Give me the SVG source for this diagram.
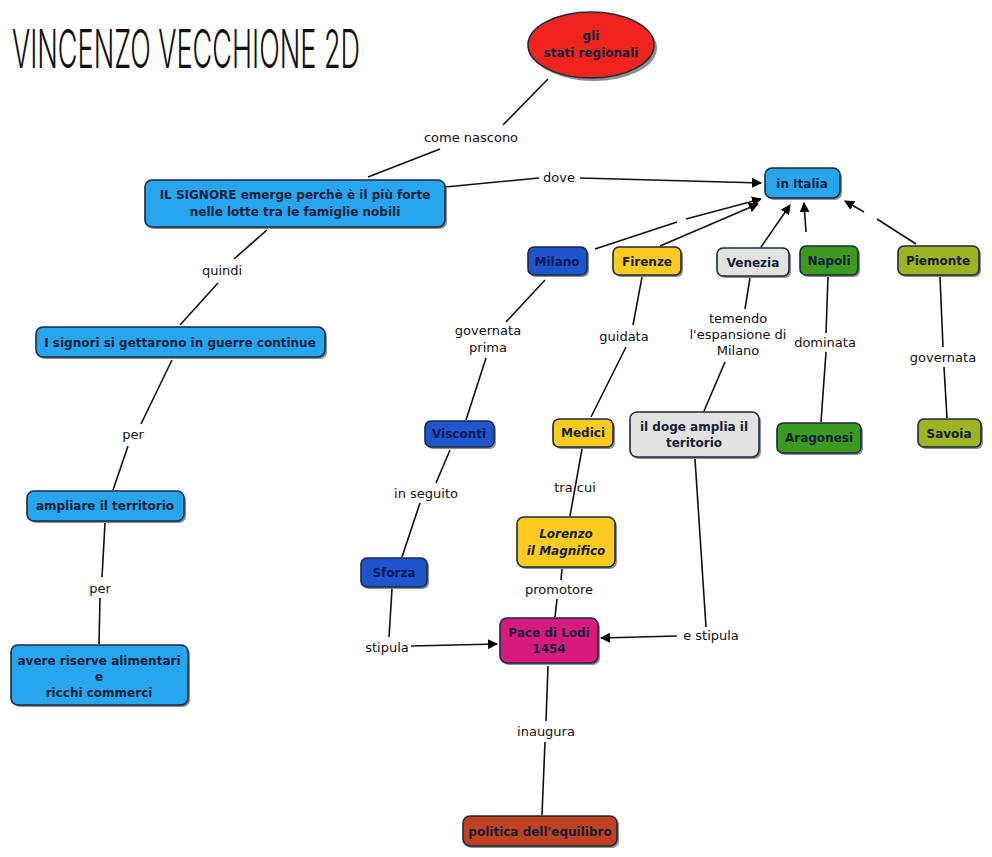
<svg xmlns="http://www.w3.org/2000/svg" width="992" height="857" viewBox="0 0 992 857">
<defs>
<marker id="arr" viewBox="0 0 10 10" refX="9" refY="5" markerWidth="10" markerHeight="10" markerUnits="userSpaceOnUse" orient="auto"><path d="M0,0 L10,5 L0,10 z" fill="#000"/></marker>
<style>
.n{stroke:#1a2a40;stroke-width:1.6}
.sh{fill:#333;opacity:.55}
.t{font-family:"DejaVu Sans",Verdana,sans-serif;font-weight:bold;font-size:12px;fill:#14213a;text-anchor:middle}
.tw{font-family:"DejaVu Sans",Verdana,sans-serif;font-weight:bold;font-size:12px;fill:#0c1a5a;text-anchor:middle}
.l{font-family:"DejaVu Sans",Verdana,sans-serif;font-size:13px;fill:#111;text-anchor:middle}
.c{stroke:#111;stroke-width:1.6;fill:none}
.a{stroke:#111;stroke-width:1.6;fill:none;marker-end:url(#arr)}
.blue{fill:#27a6ee}.dblue{fill:#1f55cc}.yel{fill:#ffcb1e}.gray{fill:#e2e2e0}.grn{fill:#3c9a1e}.olv{fill:#9db322}.mag{fill:#d81a7e}.brn{fill:#c0411f}
</style>
</defs>
<rect width="992" height="857" fill="#fff"/>
<text x="12" y="68" font-family="Inter,'DejaVu Sans',sans-serif" font-size="53" font-weight="300" fill="#111" textLength="348" lengthAdjust="spacingAndGlyphs">VINCENZO VECCHIONE 2D</text>

<g id="connectors">
<line class="c" x1="548" y1="79" x2="503" y2="125"/>
<line class="c" x1="440" y1="149" x2="368" y2="177"/>
<line class="c" x1="445" y1="187" x2="539" y2="178"/>
<line class="a" x1="580" y1="178" x2="761" y2="183"/>
<line class="c" x1="267" y1="230" x2="234" y2="259"/>
<line class="c" x1="218" y1="283" x2="180" y2="325"/>
<line class="c" x1="172" y1="360" x2="141" y2="424"/>
<line class="c" x1="128" y1="446" x2="113" y2="490"/>
<line class="c" x1="105" y1="523" x2="102" y2="577"/>
<line class="c" x1="100" y1="598" x2="99" y2="644"/>
<line class="c" x1="595" y1="249" x2="677" y2="222"/>
<line class="a" x1="686" y1="219" x2="761" y2="199"/>
<line class="a" x1="660" y1="246" x2="758" y2="204"/>
<line class="a" x1="761" y1="247" x2="790" y2="205"/>
<line class="a" x1="806" y1="232" x2="804" y2="203"/>
<line class="c" x1="916" y1="244" x2="877" y2="219"/>
<line class="a" x1="864" y1="212" x2="845" y2="201"/>
<line class="c" x1="545" y1="280" x2="506" y2="322"/>
<line class="c" x1="486" y1="358" x2="466" y2="420"/>
<line class="c" x1="642" y1="277" x2="633" y2="325"/>
<line class="c" x1="626" y1="347" x2="591" y2="417"/>
<line class="c" x1="750" y1="278" x2="745" y2="309"/>
<line class="c" x1="725" y1="362" x2="704" y2="411"/>
<line class="c" x1="828" y1="277" x2="826" y2="333"/>
<line class="c" x1="826" y1="352" x2="821" y2="422"/>
<line class="c" x1="940" y1="277" x2="943" y2="347"/>
<line class="c" x1="944" y1="367" x2="947" y2="418"/>
<line class="c" x1="450" y1="450" x2="436" y2="483"/>
<line class="c" x1="420" y1="503" x2="402" y2="557"/>
<line class="c" x1="582" y1="449" x2="570" y2="516"/>
<line class="c" x1="562" y1="569" x2="561" y2="580"/>
<line class="c" x1="557" y1="599" x2="555" y2="617"/>
<line class="c" x1="392" y1="589" x2="389" y2="637"/>
<line class="a" x1="411" y1="646" x2="497" y2="644"/>
<line class="c" x1="695" y1="459" x2="706" y2="627"/>
<line class="a" x1="677" y1="636" x2="601" y2="638"/>
<line class="c" x1="548" y1="666" x2="546" y2="721"/>
<line class="c" x1="545" y1="742" x2="542" y2="815"/>
</g>

<g id="labels">
<text class="l" x="471" y="142">come nascono</text>
<text class="l" x="559" y="182">dove</text>
<text class="l" x="222" y="275">quindi</text>
<text class="l" x="133" y="439">per</text>
<text class="l" x="100" y="593">per</text>
<text class="l" x="488" y="335">governata</text>
<text class="l" x="488" y="352">prima</text>
<text class="l" x="624" y="341">guidata</text>
<text class="l" x="738" y="323">temendo</text>
<text class="l" x="738" y="339">l'espansione di</text>
<text class="l" x="738" y="355">Milano</text>
<text class="l" x="825" y="347">dominata</text>
<text class="l" x="943" y="362">governata</text>
<text class="l" x="426" y="498">in seguito</text>
<text class="l" x="575" y="492">tra cui</text>
<text class="l" x="559" y="594">promotore</text>
<text class="l" x="387" y="652">stipula</text>
<text class="l" x="711" y="640">e stipula</text>
<text class="l" x="546" y="736">inaugura</text>
</g>

<g id="n-stati"><ellipse class="sh" cx="594" cy="48" rx="63" ry="33"/><ellipse class="n" cx="591" cy="45" rx="63" ry="33" fill="#f0241c"/><text class="t" font-size="10"><tspan x="591" y="40">gli</tspan><tspan x="591" y="57">stati regionali</tspan></text></g>
<g id="n-signore"><rect class="sh" x="147" y="182" width="300" height="47" rx="7"/><rect class="n blue" x="145" y="180" width="300" height="47" rx="7"/><text class="t" x="295" y="199">IL SIGNORE emerge perchè è il più forte</text><text class="t" x="295" y="216">nelle lotte tra le famiglie nobili</text></g>
<g id="n-italia"><rect class="sh" x="767" y="170" width="75" height="30" rx="7"/><rect class="n blue" x="765" y="168" width="75" height="30" rx="7"/><text class="t" x="802" y="188">in Italia</text></g>
<g id="n-guerre"><rect class="sh" x="38" y="329" width="289" height="30" rx="7"/><rect class="n blue" x="36" y="327" width="289" height="30" rx="7"/><text class="t" x="180" y="347">I signori si gettarono in guerre continue</text></g>
<g id="n-ampliare"><rect class="sh" x="29" y="493" width="157" height="30" rx="7"/><rect class="n blue" x="27" y="491" width="157" height="30" rx="7"/><text class="t" x="105" y="510">ampliare il territorio</text></g>
<g id="n-riserve"><rect class="sh" x="13" y="647" width="177" height="60" rx="7"/><rect class="n blue" x="11" y="645" width="177" height="60" rx="7"/><text class="t" x="99" y="665">avere riserve alimentari</text><text class="t" x="99" y="681">e</text><text class="t" x="99" y="697">ricchi commerci</text></g>
<g id="n-milano"><rect class="sh" x="530" y="249" width="59" height="28" rx="6"/><rect class="n dblue" x="528" y="247" width="59" height="28" rx="6"/><text class="tw" x="557" y="266">Milano</text></g>
<g id="n-firenze"><rect class="sh" x="615" y="249" width="68" height="28" rx="6"/><rect class="n yel" x="613" y="247" width="68" height="28" rx="6"/><text class="t" x="647" y="266">Firenze</text></g>
<g id="n-venezia"><rect class="sh" x="719" y="250" width="72" height="28" rx="6"/><rect class="n gray" x="717" y="248" width="72" height="28" rx="6"/><text class="t" x="753" y="267">Venezia</text></g>
<g id="n-napoli"><rect class="sh" x="802" y="248" width="58" height="29" rx="6"/><rect class="n grn" x="800" y="246" width="58" height="29" rx="6"/><text class="t" x="829" y="265">Napoli</text></g>
<g id="n-piemonte"><rect class="sh" x="900" y="248" width="81" height="29" rx="6"/><rect class="n olv" x="898" y="246" width="81" height="29" rx="6"/><text class="t" x="938" y="265">Piemonte</text></g>
<g id="n-visconti"><rect class="sh" x="427" y="423" width="69" height="26" rx="6"/><rect class="n dblue" x="425" y="421" width="69" height="26" rx="6"/><text class="tw" x="459" y="438">Visconti</text></g>
<g id="n-medici"><rect class="sh" x="555" y="421" width="60" height="28" rx="6"/><rect class="n yel" x="553" y="419" width="60" height="28" rx="6"/><text class="t" x="583" y="437">Medici</text></g>
<g id="n-doge"><rect class="sh" x="632" y="414" width="129" height="45" rx="7"/><rect class="n gray" x="630" y="412" width="129" height="45" rx="7"/><text class="t" x="694" y="431">il doge amplia il</text><text class="t" x="694" y="447">teritorio</text></g>
<g id="n-aragonesi"><rect class="sh" x="779" y="425" width="84" height="30" rx="6"/><rect class="n grn" x="777" y="423" width="84" height="30" rx="6"/><text class="t" x="819" y="442">Aragonesi</text></g>
<g id="n-savoia"><rect class="sh" x="920" y="421" width="63" height="28" rx="6"/><rect class="n olv" x="918" y="419" width="63" height="28" rx="6"/><text class="t" x="949" y="438">Savoia</text></g>
<g id="n-sforza"><rect class="sh" x="363" y="560" width="66" height="29" rx="6"/><rect class="n dblue" x="361" y="558" width="66" height="29" rx="6"/><text class="tw" x="394" y="577">Sforza</text></g>
<g id="n-lorenzo"><rect class="sh" x="519" y="519" width="98" height="50" rx="7"/><rect class="n yel" x="517" y="517" width="98" height="50" rx="7"/><text class="t" x="566" y="538" font-size="11" font-style="italic">Lorenzo</text><text class="t" x="566" y="555" font-size="11" font-style="italic">il Magnifico</text></g>
<g id="n-pace"><rect class="sh" x="502" y="620" width="98" height="45" rx="7"/><rect class="n mag" x="500" y="618" width="98" height="45" rx="7"/><text class="t" x="549" y="637" font-size="11">Pace di Lodi</text><text class="t" x="549" y="653" font-size="11">1454</text></g>
<g id="n-politica"><rect class="sh" x="465" y="818" width="154" height="30" rx="7"/><rect class="n brn" x="463" y="816" width="154" height="30" rx="7"/><text class="t" x="540" y="836">politica dell'equilibro</text></g>
</svg>
